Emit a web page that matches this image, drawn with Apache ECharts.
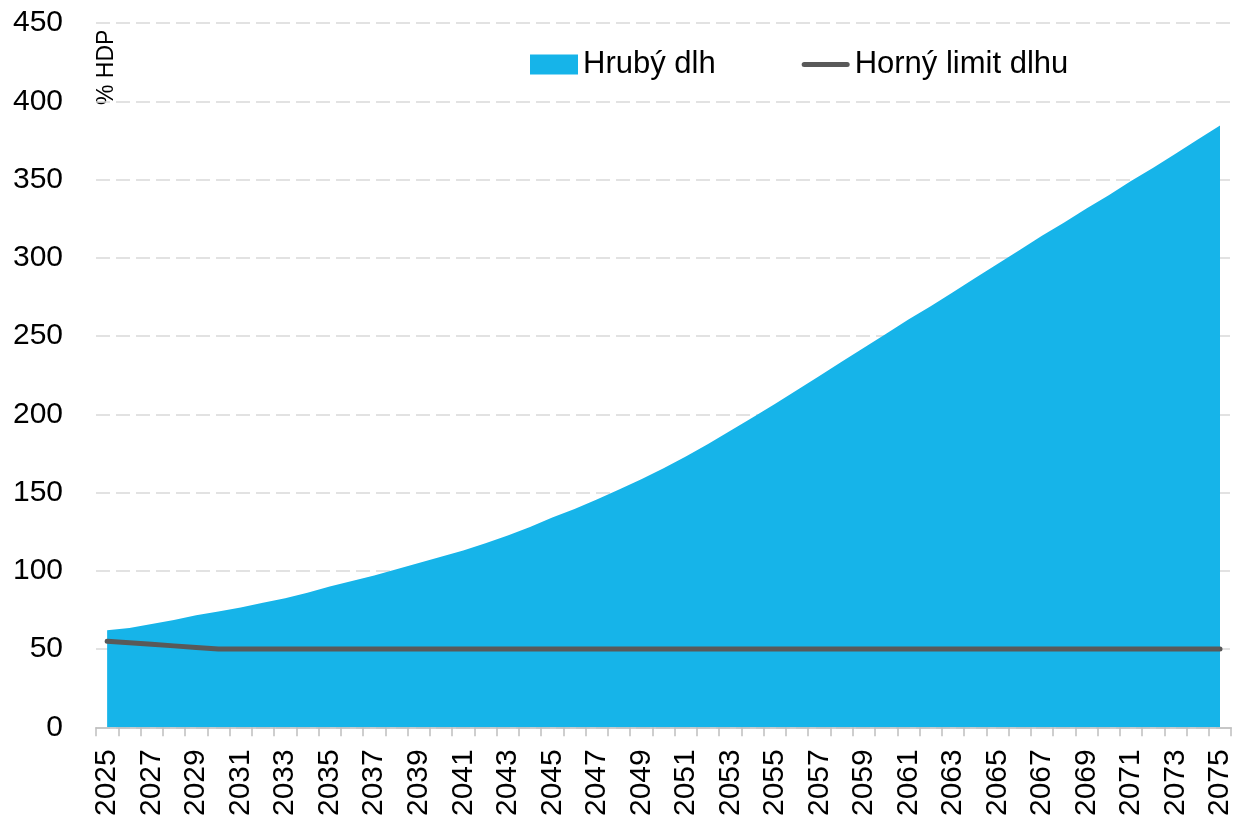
<!DOCTYPE html>
<html>
<head>
<meta charset="utf-8">
<script src="https://cdn.jsdelivr.net/npm/echarts@6/dist/echarts.min.js"></script>
<style>
html,body{margin:0;padding:0;background:#fff;}
#chart{width:1235px;height:819px;}
</style>
</head>
<body>
<div id="chart"></div>
<script>
const years = [];
for (let y = 2025; y <= 2075; y++) years.push(String(y));

const hrubyDlh = [
  62, 63.5, 66, 68.5, 71.5, 74, 76.5, 79.5, 82.5, 86,
  90, 93.5, 97, 101, 105, 109, 113, 117.5, 122.5, 128,
  134, 139.5, 145.5, 152, 158.5, 165.5, 173, 181, 189.5, 198,
  206.5, 215.5, 224.5, 233.5, 242.5, 251.5, 260.5, 269, 278, 287,
  296, 305, 314, 322.5, 331.5, 340, 349, 357.5, 366.5, 375.5,
  384.5
];

const hornyLimit = [
  55, 54, 53, 52, 51, 50, 50, 50, 50, 50,
  50, 50, 50, 50, 50, 50, 50, 50, 50, 50,
  50, 50, 50, 50, 50, 50, 50, 50, 50, 50,
  50, 50, 50, 50, 50, 50, 50, 50, 50, 50,
  50, 50, 50, 50, 50, 50, 50, 50, 50, 50,
  50
];

const seriesNames = ['Hrubý dlh', 'Horný limit dlhu'];
const yAxisName = '% HDP';

const FONT = '"Liberation Sans", Arial, sans-serif';

const chart = echarts.init(document.getElementById('chart'), null, {renderer: 'canvas'});
chart.setOption({
  animation: false,
  backgroundColor: '#fff',
  grid: {left: 96, right: 2, top: 23, bottom: 89, containLabel: false},
  legend: {
    left: 525,
    top: 44,
    itemWidth: 48,
    itemHeight: 20,
    itemGap: 86,
    textStyle: {fontFamily: FONT, fontSize: 31, color: '#000'},
    data: [
      {name: seriesNames[0], icon: 'rect'},
      {name: seriesNames[1], icon: 'path://M2.5,0 L45.5,0 A2.5,2.5 0 0 1 45.5,5 L2.5,5 A2.5,2.5 0 0 1 2.5,0 Z'}
    ]
  },
  graphic: [{
    type: 'text',
    x: 107,
    y: 105,
    rotation: Math.PI / 2,
    style: {
      text: yAxisName,
      fontFamily: FONT,
      fontSize: 23,
      fill: '#000',
      align: 'left',
      verticalAlign: 'middle'
    }
  }],
  xAxis: {
    type: 'category',
    data: years,
    boundaryGap: true,
    axisLine: {show: true, lineStyle: {color: '#BFBFBF', width: 1.5}},
    axisTick: {show: true, interval: 0, length: 9, lineStyle: {color: '#BFBFBF', width: 1.5}},
    axisLabel: {
      interval: 1,
      rotate: 90,
      margin: 22,
      fontFamily: FONT,
      fontSize: 30,
      color: '#000'
    },
    splitLine: {show: false}
  },
  yAxis: {
    type: 'value',
    min: 0,
    max: 450,
    interval: 50,
    axisLine: {show: false},
    axisTick: {show: false},
    axisLabel: {margin: 33, fontFamily: FONT, fontSize: 30, color: '#000'},
    splitLine: {show: true, lineStyle: {color: '#D9D9D9', width: 1.5, type: [14, 6]}}
  },
  series: [
    {
      name: seriesNames[0],
      type: 'line',
      data: hrubyDlh,
      symbol: 'none',
      showSymbol: false,
      smooth: false,
      color: '#16B4E9',
      lineStyle: {width: 0, color: '#16B4E9'},
      itemStyle: {color: '#16B4E9'},
      areaStyle: {color: '#16B4E9', opacity: 1},
      z: 1
    },
    {
      name: seriesNames[1],
      type: 'line',
      data: hornyLimit,
      symbol: 'none',
      showSymbol: false,
      color: '#595959',
      lineStyle: {width: 5, color: '#595959', cap: 'round'},
      itemStyle: {color: '#595959'},
      z: 3
    }
  ]
});
</script>
</body>
</html>
